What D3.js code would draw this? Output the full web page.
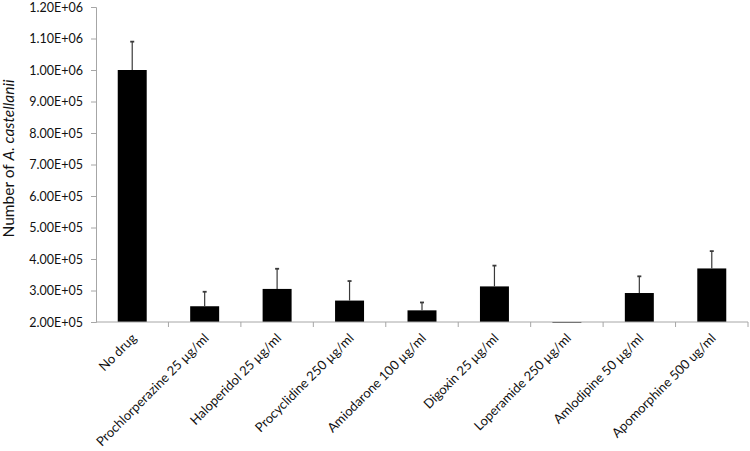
<!DOCTYPE html>
<html>
<head>
<meta charset="utf-8">
<script src="https://cdn.jsdelivr.net/npm/d3@7"></script>
<style>
  body { margin: 0; background: #fff; }
  text { font-family: Lato, "Liberation Sans", sans-serif; fill: #111; }
</style>
</head>
<body>
<div id="canvas"></div>
<script>
'use strict';
/* Counts of A. castellanii after treatment. */
const categories = [
  'No drug',
  'Prochlorperazine 25 µg/ml',
  'Haloperidol 25 µg/ml',
  'Procyclidine 250 µg/ml',
  'Amiodarone 100 µg/ml',
  'Digoxin 25 µg/ml',
  'Loperamide 250 µg/ml',
  'Amlodipine 50 µg/ml',
  'Apomorphine 500 ug/ml',
];
const counts = [1.0e6, 2.5e5, 3.05e5, 2.68e5, 2.37e5, 3.13e5, 1.97e5, 2.92e5, 3.7e5];
const errors = [0.9e5, 0.46e5, 0.64e5, 0.62e5, 0.25e5, 0.66e5, 0, 0.53e5, 0.55e5];
const yTicks = [2e5, 3e5, 4e5, 5e5, 6e5, 7e5, 8e5, 9e5, 1e6, 1.1e6, 1.2e6];

const canvasWidth = 750;
const canvasHeight = 451;
const margins = {top: 7, right: 2, bottom: 129, left: 96};
const width = canvasWidth - margins.left - margins.right;
const height = canvasHeight - margins.top - margins.bottom;

const svg = d3.select('#canvas').append('svg')
    .attr('width', canvasWidth)
    .attr('height', canvasHeight);
const chart = svg.append('g')
    .attr('transform', `translate(${margins.left},${margins.top})`);

const x = d3.scaleBand().domain(categories).range([0, width]).paddingInner(0.6).paddingOuter(0.3);
const xEdges = d3.scaleBand().domain(categories).range([0, width]);
const y = d3.scaleLinear().domain([2e5, 1.2e6]).range([height, 0]);

/* Excel style exponent labels, e.g. 1.20E+06 */
const sci = (v) => {
  const [m, e] = v.toExponential(2).split('e');
  const exp = Math.abs(+e).toString().padStart(2, '0');
  return `${m}E${+e < 0 ? '-' : '+'}${exp}`;
};

const axisColor = '#a6a6a6';

const yAxis = chart.append('g')
    .call(d3.axisLeft(y).tickValues(yTicks).tickFormat(sci).tickSize(5).tickPadding(8));
yAxis.select('.domain').attr('stroke', axisColor);
yAxis.selectAll('.tick line').attr('stroke', axisColor);
yAxis.selectAll('.tick text').attr('font-size', 12.5).attr('fill', '#111')
    .attr('font-family', 'Lato, "Liberation Sans", sans-serif');

/* bars: Loperamide sits just under the axis minimum, so draw from the baseline either way */
const base = y(2e5);
chart.append('g').selectAll('rect')
    .data(categories)
    .join('rect')
    .attr('x', (d) => x(d))
    .attr('width', x.bandwidth())
    .attr('y', (d, i) => Math.min(base, y(counts[i])))
    .attr('height', (d, i) => Math.max(1, Math.abs(y(counts[i]) - base)))
    .attr('fill', (d, i) => counts[i] < 2e5 ? '#444' : '#000');

/* upper error bars */
const err = chart.append('g').attr('stroke', '#3a3a3a').attr('stroke-width', 1.2);
categories.forEach((c, i) => {
  if (!errors[i]) return;
  const cx = x(c) + x.bandwidth() / 2;
  err.append('line')
      .attr('x1', cx).attr('x2', cx)
      .attr('y1', y(counts[i])).attr('y2', y(counts[i] + errors[i]));
  err.append('line')
      .attr('x1', cx - 2).attr('x2', cx + 2)
      .attr('y1', y(counts[i] + errors[i])).attr('y2', y(counts[i] + errors[i]))
      .attr('stroke-width', 1.8);
});

/* category axis at the bottom, ticks between categories */
const xAxis = chart.append('g').attr('transform', `translate(0,${height})`);
xAxis.append('line')
    .attr('x1', 0).attr('x2', width)
    .attr('stroke', axisColor);
xAxis.selectAll('line.sep')
    .data(categories)
    .join('line')
    .attr('class', 'sep')
    .attr('x1', (d) => xEdges(d) + xEdges.bandwidth())
    .attr('x2', (d) => xEdges(d) + xEdges.bandwidth())
    .attr('y1', 0).attr('y2', 5)
    .attr('stroke', axisColor);
xAxis.selectAll('text')
    .data(categories)
    .join('text')
    .attr('transform', (d) =>
      `translate(${x(d) + x.bandwidth() / 2 + 5},${17}) rotate(-45)`)
    .attr('text-anchor', 'end')
    .attr('font-size', 13)
    .text((d) => d);

/* y axis title with italic species name */
const title = chart.append('text')
    .attr('transform', `translate(${14 - margins.left},${height / 2 - 6}) rotate(-90)`)
    .attr('text-anchor', 'middle')
    .attr('font-size', 15.5);
title.append('tspan').text('Number of ');
title.append('tspan').attr('font-style', 'italic').text('A. castellanii');
</script>
</body>
</html>
